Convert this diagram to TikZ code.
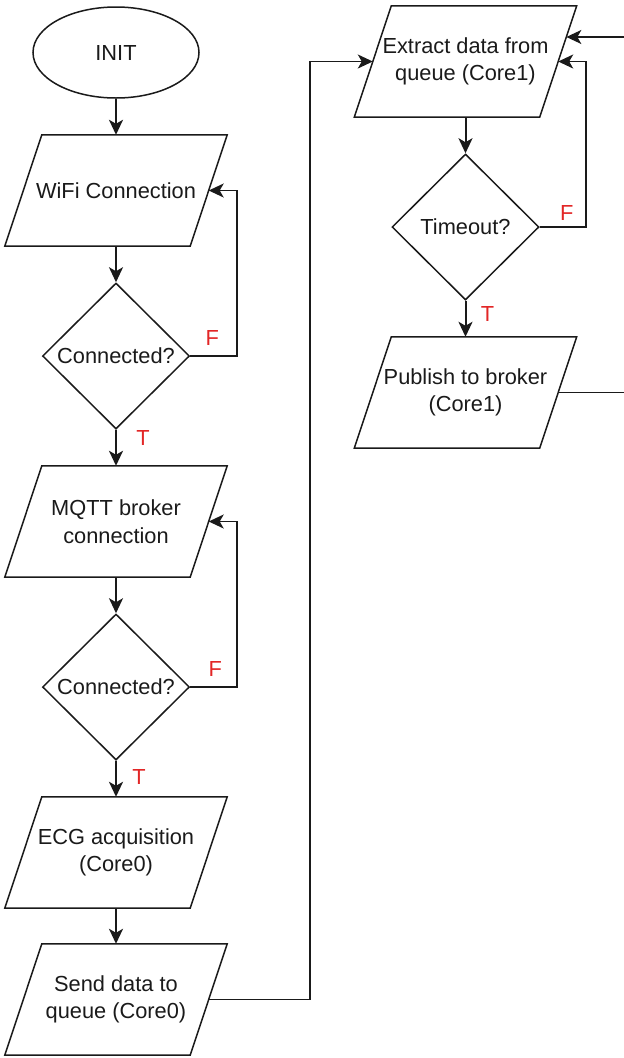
\documentclass[tikz,border=0pt]{standalone}
\usepackage{fontspec}
\setmainfont{Liberation Sans}
\usepackage{xcolor}
\usetikzlibrary{calc, shapes.geometric, arrows.meta}

\definecolor{lblred}{RGB}{226,38,38}
\definecolor{ink}{RGB}{26,26,26}

\tikzset{
	io/.style={minimum width=185pt, minimum height=111pt, inner sep=0pt, align=center},
	test/.style={draw=ink, line width=1.5pt, diamond, minimum width=147pt, minimum height=146pt, inner sep=0pt},
	lbl/.style={text=lblred, inner sep=0pt}
}

\begin{document}
\begin{tikzpicture}[x=1pt, y=-1pt, font=\fontsize{21.8}{27.5}\selectfont, text=ink]
					\def\xa{116};
					\def\xb{465.5};
					
					\useasboundingbox (0,0) rectangle (624,1058);
					
					\coordinate (bus) at (310,61.5);
					\coordinate (back) at (624,37);
					\coordinate (out) at (624,392.5);
					
					\begin{scope}
						\node [draw=ink, line width=1.5pt, ellipse, minimum width=166pt, minimum height=91pt] (init) at (\xa,52.5) {INIT};
						\node [io] (wifi) at (\xa,190.5) {WiFi Connection};
						\node [test] (con1) at (\xa,356) {Connected?};
						\node [io] (mqtt) at (\xa,521.5) {MQTT broker\\connection};
						\node [test] (con2) at (\xa,687) {Connected?};
						\node [io] (ecg) at (\xa,852.5) {ECG acquisition\\(Core0)};
						\node [io] (send) at (\xa,999.5) {Send data to\\queue (Core0)};
						
						\node [io] (extract) at (\xb,61.5) {Extract data from\\queue (Core1)};
						\node [test] (timeout) at (\xb,227) {Timeout?};
						\node [io] (publish) at (\xb,392.5) {Publish to broker\\(Core1)};
					\end{scope}
					
					\foreach \n in {wifi, mqtt, ecg, send, extract, publish} {
						\coordinate (\n-nw) at ($ (\n.north west) + (18.5,0) $);
						\coordinate (\n-ne) at ($ (\n.north east) + (18.5,0) $);
						\coordinate (\n-se) at ($ (\n.south east) + (-18.5,0) $);
						\coordinate (\n-sw) at ($ (\n.south west) + (-18.5,0) $);
						\draw [ink, line width=1.5pt] (\n-nw) -- (\n-ne) -- (\n-se) -- (\n-sw) -- cycle;
					}
					
					\begin{scope}
						\node [lbl] (f1) at ($ (con1.east) + (22,-18) $) {F};
						\node [lbl] (t1) at ($ (con1.south) + (27,8) $) {T};
						\node [lbl] (f2) at ($ (con2.east) + (25,-18) $) {F};
						\node [lbl] (t2) at ($ (con2.south) + (23,16) $) {T};
						\node [lbl] (f3) at ($ (timeout.east) + (27,-14) $) {F};
						\node [lbl] (t3) at ($ (timeout.south) + (22,13) $) {T};
					\end{scope}
					
					\begin{scope}[draw=ink, line width=2pt, -{Stealth[length=15pt, width=14pt, inset=4pt]}]
						\draw (init) -- (wifi);
						\draw (wifi) -- (con1);
						\draw (con1) -- (mqtt);
						\draw (mqtt) -- (con2);
						\draw (con2) -- (ecg);
						\draw (ecg) -- (send);
						\draw (extract) -- (timeout);
						\draw (timeout) -- (publish);
					\end{scope}
					
					\begin{scope}[draw=ink, line width=1.6pt, -{Stealth[length=15pt, width=14pt, inset=4pt]}]
						\draw (con1.east) -- ++(47,0) |- (wifi.east);
						\draw (con2.east) -- ++(47,0) |- (mqtt.east);
						\draw (timeout.east) -- ++(46,0) |- (extract.east);
						\draw (send.east) -| (bus) -- (extract.west);
						\draw (back) -- ($ (extract-ne) ! 0.28 ! (extract-se) $);
						\draw [-] (publish.east) -- (out);
					\end{scope}
				\end{tikzpicture}
\end{document}
